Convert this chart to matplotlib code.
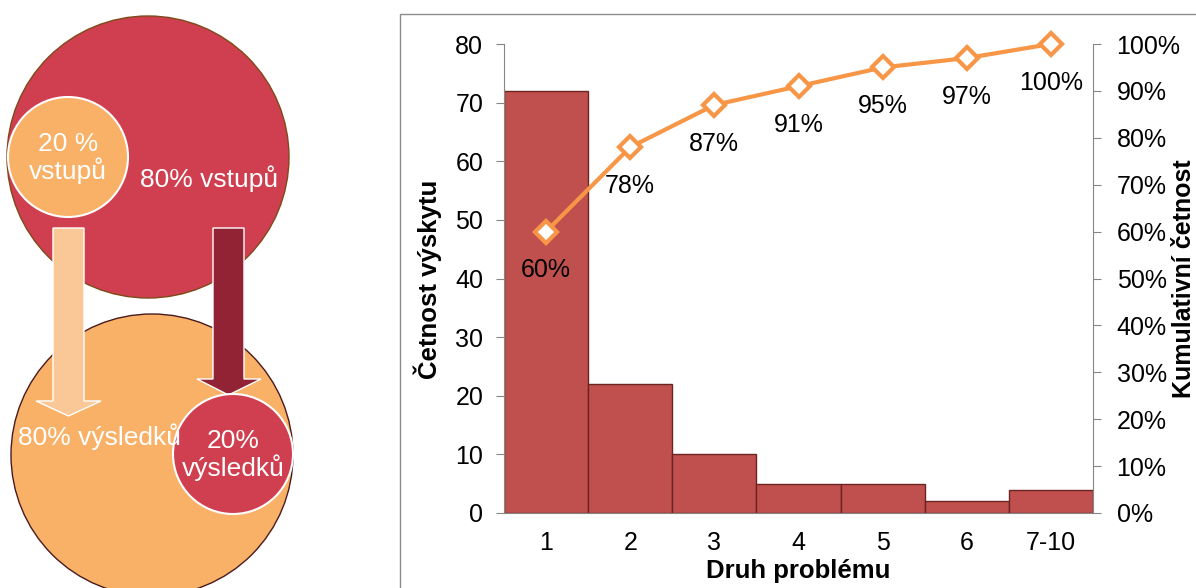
import matplotlib
matplotlib.use("Agg")
import matplotlib.pyplot as plt
from matplotlib.patches import Circle, Polygon, Rectangle
from matplotlib.ticker import PercentFormatter

plt.rcParams['font.family'] = ['Liberation Sans', 'DejaVu Sans']

# data for the Pareto chart
categories = ['1', '2', '3', '4', '5', '6', '7-10']
counts = [72, 22, 10, 5, 5, 2, 4]
cumulative = [0.60, 0.78, 0.87, 0.91, 0.95, 0.97, 1.00]
cum_labels = ['60%', '78%', '87%', '91%', '95%', '97%', '100%']

# texts of the 80/20 diagram
top_big_text = '80% vstupů'
top_small_text = '20 %\nvstupů'
bottom_big_text = '80% výsledků'
bottom_small_text = '20%\nvýsledků'

W, H = 1196, 588
fig = plt.figure(figsize=(W / 100, H / 100), dpi=100)

# ---- left diagram, drawn in pixel units ----
dg = fig.add_axes([0, 0, 300 / W, 1])
dg.set_xlim(0, 300)
dg.set_ylim(H, 0)
dg.axis('off')

red = '#CF3F4F'
orange = '#F8B167'
light = '#F9C896'
dark = '#922334'

dg.add_patch(Circle((148, 157), 141, facecolor=red, edgecolor='#7F4A1A', lw=1))
dg.add_patch(Circle((152, 455), 141, facecolor=orange, edgecolor='#4A1A1E', lw=1))
dg.add_patch(Circle((68, 157), 60, facecolor=orange, edgecolor='white', lw=1.5))

# arrows
dg.add_patch(Polygon([(53, 228), (84, 228), (84, 401), (101, 401), (68.5, 416),
                      (36, 401), (53, 401)], closed=True,
                     facecolor=light, edgecolor='white', lw=1))
dg.add_patch(Polygon([(213, 228), (244, 228), (244, 379), (261, 379), (228.5, 395),
                      (197, 379), (213, 379)], closed=True,
                     facecolor=dark, edgecolor='white', lw=1))

dg.add_patch(Circle((233, 454), 60, facecolor=red, edgecolor='white', lw=1.5, zorder=3))

txt = dict(color='white', fontsize=19, ha='center', va='center', linespacing=1.1)
dg.text(68, 158, top_small_text, **txt)
dg.text(209, 179, top_big_text, **txt)
dg.text(99, 437, bottom_big_text, zorder=4, **txt)
dg.text(233, 455, bottom_small_text, zorder=4, **txt)

# ---- chart frame ----
fig.add_artist(Rectangle((400 / W, -0.05), 1.0, 1 - 14 / H + 0.05,
                         transform=fig.transFigure, facecolor='none',
                         edgecolor='#8C8C8C', lw=1))

# ---- Pareto chart ----
left, right, top, bottom = 504, 1093, 44, 513
ax = fig.add_axes([left / W, 1 - bottom / H, (right - left) / W, (bottom - top) / H])
x = range(len(categories))
ax.bar(x, counts, width=1.0, color='#C0504D', edgecolor='#6B2422', lw=1)
ax.set_xlim(-0.5, len(categories) - 0.5)
ax.set_ylim(0, 80)
ax.set_yticks(range(0, 81, 10))
ax.set_xticks(list(x))
ax.set_xticklabels(categories)

gray = '#868686'
for s in ['top', 'right']:
    ax.spines[s].set_visible(False)
for s in ['left', 'bottom']:
    ax.spines[s].set_color(gray)
ax.tick_params(axis='y', labelsize=18, length=6, color=gray, pad=9)
ax.tick_params(axis='x', labelsize=18, length=0, pad=13)

ax2 = ax.twinx()
ax2.set_ylim(0, 1)
ax2.set_yticks([i / 10 for i in range(11)])
ax2.yaxis.set_major_formatter(PercentFormatter(1.0, decimals=0))
for s in ['top', 'left', 'bottom']:
    ax2.spines[s].set_visible(False)
ax2.spines['right'].set_color(gray)
ax2.tick_params(axis='y', labelsize=18, length=6, color=gray, pad=11)

ax2.plot(list(x), cumulative, color='#F79646', lw=3, marker='D', ms=11,
         mfc='white', mec='#F79646', mew=3, clip_on=False, zorder=5)
for xi, yi, lab in zip(x, cumulative, cum_labels):
    ax2.annotate(lab, (xi, yi), xytext=(0, -28), textcoords='offset points',
                 ha='center', va='center', fontsize=18)

fig.text(428 / W, 1 - 279 / H, 'Četnost výskytu', rotation=90, ha='center',
         va='center', fontsize=18.5, fontweight='bold')
fig.text(1184 / W, 1 - 279 / H, 'Kumulativní četnost', rotation=90, ha='center',
         va='center', fontsize=18, fontweight='bold')
fig.text(798 / W, 1 - 571 / H, 'Druh problému', ha='center', va='center',
         fontsize=18.5, fontweight='bold')

fig.savefig('out.png', dpi=100)
